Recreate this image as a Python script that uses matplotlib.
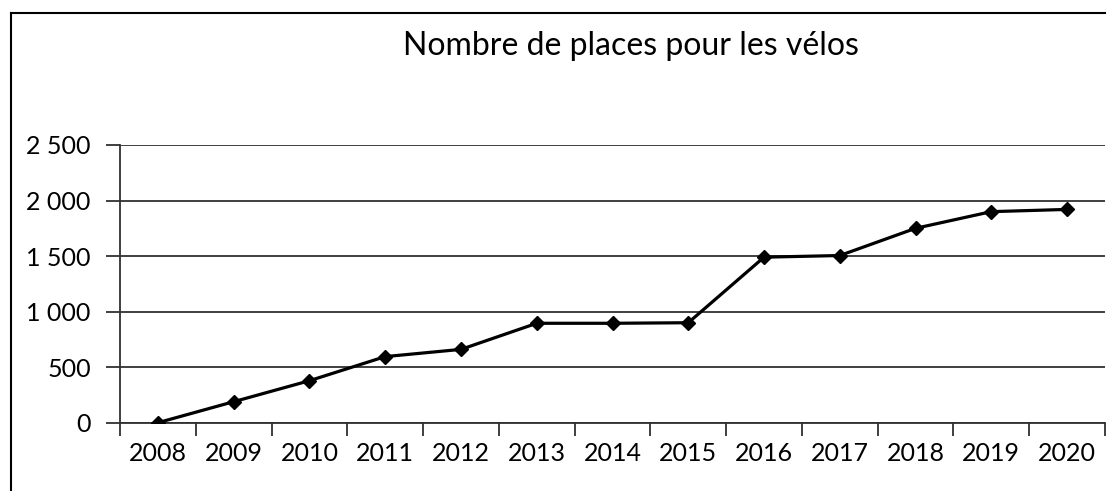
import matplotlib
matplotlib.use("Agg")
import matplotlib.pyplot as plt
from matplotlib.lines import Line2D

plt.rcParams['font.family'] = ['Lato', 'DejaVu Sans']

# Nombre de places de stationnement vélo par année
years = ['2008', '2009', '2010', '2011', '2012', '2013', '2014',
         '2015', '2016', '2017', '2018', '2019', '2020']
places = [0, 189, 378, 595, 660, 895, 895, 900, 1490, 1505, 1750, 1900, 1920]

yticks = [0, 500, 1000, 1500, 2000, 2500]
ytick_labels = ['0', '500', '1 000', '1 500', '2 000', '2 500']

fig = plt.figure(figsize=(11.09, 4.91), dpi=100)
ax = fig.add_axes([0.1082, 0.1391, 0.8882, 0.5656])

x = list(range(len(years)))
ax.plot(x, places, color='black', linewidth=2.3, marker='D', markersize=7.5,
        markerfacecolor='black', markeredgecolor='black', zorder=3)

ax.set_xlim(-0.5, len(years) - 0.5)
ax.set_ylim(0, 2500)

# lignes horizontales de la grille
ax.set_yticks(yticks)
ax.set_yticklabels(ytick_labels)
ax.yaxis.grid(True, color='#303030', linewidth=1.3)
ax.set_axisbelow(True)

# années centrées, graduations entre les catégories
ax.set_xticks(x)
ax.set_xticklabels(years)
ax.set_xticks([i - 0.5 for i in range(len(years) + 1)], minor=True)
ax.tick_params(axis='x', which='major', length=0, pad=14, labelsize=18)
ax.tick_params(axis='x', which='minor', length=9, width=1.3, color='#303030')
ax.tick_params(axis='y', length=10, width=1.3, color='#303030', pad=11,
               labelsize=18)

for side in ['top', 'right']:
    ax.spines[side].set_visible(False)
for side in ['left', 'bottom']:
    ax.spines[side].set_color('#303030')
    ax.spines[side].set_linewidth(1.3)

fig.text(0.569, 0.888, 'Nombre de places pour les vélos', fontsize=23,
         ha='center', va='baseline')

# cadre du graphique (haut et gauche)
fx0, fx1 = 11 / 1109, 1105 / 1109
fy = 1 - 13 / 491
fig.add_artist(Line2D([fx0, fx1], [fy, fy], transform=fig.transFigure,
                      color='black', linewidth=1.5))
fig.add_artist(Line2D([fx0, fx0], [0, fy], transform=fig.transFigure,
                      color='black', linewidth=1.5))

fig.savefig('out.png', dpi=100)
